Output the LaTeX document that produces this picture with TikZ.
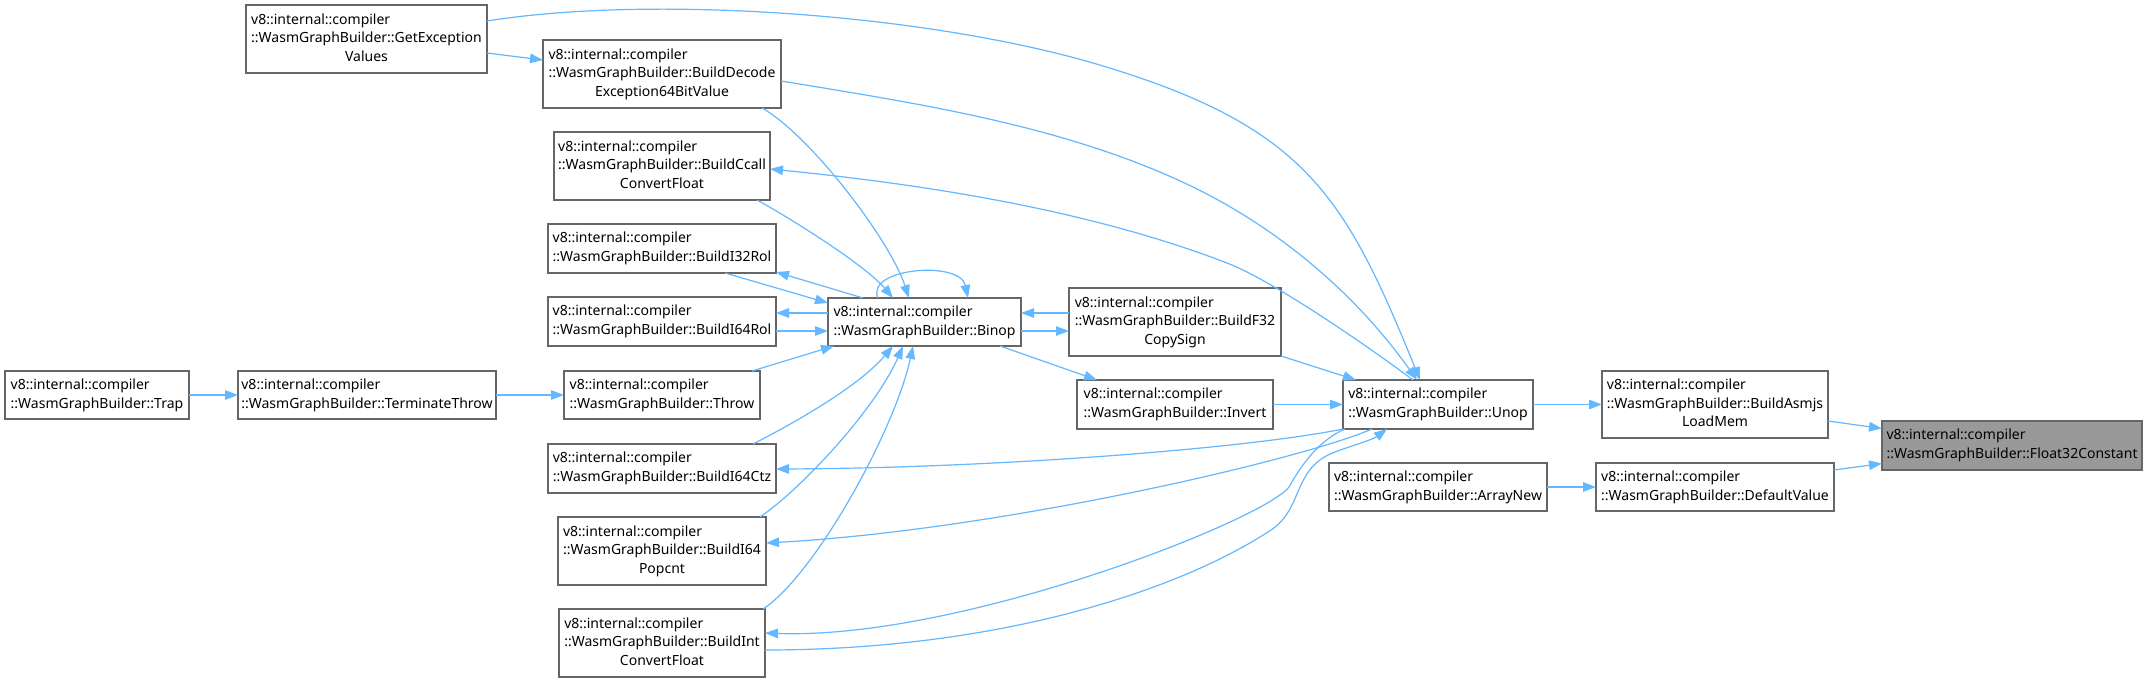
\documentclass[tikz,border=0pt]{standalone}
\usepackage{fontspec}
\setmainfont{Noto Sans}
\usetikzlibrary{arrows.meta,calc}
\definecolor{edgeblue}{HTML}{63B8FF}
\definecolor{nodeborder}{HTML}{666666}
\definecolor{targetfill}{HTML}{999999}
\newcommand{\twol}[1]{\begin{tabular}{@{}l@{}}v8::internal::compiler\\#1\end{tabular}}
\newcommand{\threel}[2]{\begin{tabular}{@{}l@{}}v8::internal::compiler\\#1\\\multicolumn{1}{@{}c@{}}{#2}\end{tabular}}
\tikzset{
  fn/.style={draw=nodeborder, line width=1.3pt, fill=white, inner sep=0pt, outer sep=0pt,
    font=\fontsize{14}{18.7}\selectfont, text=black},
  target/.style={fn, fill=targetfill},
  edge/.style={draw=edgeblue, line width=1.2pt, -{Triangle[length=13pt,width=9.5pt]}}
}
\begin{document}
\begin{tikzpicture}[x=1pt,y=-1pt]
\useasboundingbox[fill=white] (0,0) rectangle (2144,682);
% nodes
\node[fn, minimum width=241, minimum height=68] (getexc) at (366.5,39) {\threel{::WasmGraphBuilder::GetException}{Values}};
\node[fn, minimum width=238, minimum height=68] (decode) at (662,74) {\threel{::WasmGraphBuilder::BuildDecode}{Exception64BitValue}};
\node[fn, minimum width=216, minimum height=68] (ccall) at (662,166) {\threel{::WasmGraphBuilder::BuildCcall}{ConvertFloat}};
\node[fn, minimum width=228, minimum height=49] (i32rol) at (662,248.5) {\twol{::WasmGraphBuilder::BuildI32Rol}};
\node[fn, minimum width=228, minimum height=49] (i64rol) at (662,321.5) {\twol{::WasmGraphBuilder::BuildI64Rol}};
\node[fn, minimum width=184, minimum height=48] (trap) at (97,395) {\twol{::WasmGraphBuilder::Trap}};
\node[fn, minimum width=258, minimum height=48] (terminate) at (367,395) {\twol{::WasmGraphBuilder::TerminateThrow}};
\node[fn, minimum width=196, minimum height=48] (throw) at (662,395) {\twol{::WasmGraphBuilder::Throw}};
\node[fn, minimum width=228, minimum height=49] (i64ctz) at (662,468.5) {\twol{::WasmGraphBuilder::BuildI64Ctz}};
\node[fn, minimum width=208, minimum height=68] (popcnt) at (662,551) {\threel{::WasmGraphBuilder::BuildI64}{Popcnt}};
\node[fn, minimum width=206, minimum height=68] (intconv) at (662,643) {\threel{::WasmGraphBuilder::BuildInt}{ConvertFloat}};
\node[fn, minimum width=193, minimum height=48] (binop) at (924.5,322) {\twol{::WasmGraphBuilder::Binop}};
\node[fn, minimum width=212, minimum height=68] (f32copy) at (1175,322) {\threel{::WasmGraphBuilder::BuildF32}{CopySign}};
\node[fn, minimum width=196, minimum height=49] (invert) at (1175,404.5) {\twol{::WasmGraphBuilder::Invert}};
\node[fn, minimum width=190, minimum height=49] (unop) at (1438,404.5) {\twol{::WasmGraphBuilder::Unop}};
\node[fn, minimum width=218, minimum height=48] (arraynew) at (1438,487) {\twol{::WasmGraphBuilder::ArrayNew}};
\node[fn, minimum width=238, minimum height=48] (defval) at (1715,487) {\twol{::WasmGraphBuilder::DefaultValue}};
\node[fn, minimum width=226, minimum height=67] (asmjs) at (1715,404.5) {\threel{::WasmGraphBuilder::BuildAsmjs}{LoadMem}};
\node[target, minimum width=260, minimum height=49] (float32) at (2012,445.5) {\twol{::WasmGraphBuilder::Float32Constant}};
% edges
\draw[edge] (trap.east) -- (terminate.west);
\draw[edge] (terminate.east) -- (throw.west);
\draw[edge] ($(getexc.east)+(0,14)$) -- ($(decode.west)+(0,-14)$);
\draw[edge] ($(getexc.north east)+(0,16)$) .. controls (650,-5) and (920,13) .. (1093,63)
   .. controls (1304,125) and (1344,193) .. ($(unop.north west)+(77,0)$);
\draw[edge] ($(decode.east)+(0,7)$) .. controls (921,104) and (1067,126) .. (1193,187)
   .. controls (1283,231) and (1358,297) .. ($(unop.north west)+(74,0)$);
\draw[edge] ($(unop.north west)+(70,0)$) .. controls (1373,350) and (1274,281) .. (1227,263)
   .. controls (1087,209) and (920,184) .. ($(ccall.east)+(0,3)$);
\draw[edge] ($(decode.south east)+(-19,0)$) .. controls (810,135) and (890,240) .. ($(binop.north west)+(81,0)$);
\draw[edge] ($(ccall.south east)+(-13,0)$) .. controls (790,218) and (865,265) .. ($(binop.north west)+(65,0)$);
\draw[edge] ($(i32rol.south east)+(-51,0)$) -- ($(binop.north west)+(0,5)$);
\draw[edge] ($(binop.north west)+(35,0)$) -- ($(i32rol.south east)+(0,-1)$);
\draw[edge] ($(binop.west)+(0,-9)$) -- ($(i64rol.east)+(0,-8.5)$);
\draw[edge] ($(i64rol.east)+(0,9.5)$) -- ($(binop.west)+(0,9)$);
\draw[edge] ($(throw.north east)+(-8,0)$) -- ($(binop.south west)+(6,0)$);
\draw[edge] ($(i64ctz.north east)+(-23,0)$) .. controls (800,420) and (860,385) .. ($(binop.south west)+(65,0)$);
\draw[edge] ($(popcnt.north east)+(-6,0)$) .. controls (800,490) and (875,410) .. ($(binop.south west)+(75,0)$);
\draw[edge] ($(intconv.north east)+(-2,0)$) .. controls (815,575) and (895,430) .. ($(binop.south west)+(85,0)$);
\draw[edge] ($(binop.north west)+(50,0)$) .. controls (865,268) and (960,260) .. ($(binop.north west)+(140,0)$);
\draw[edge] ($(f32copy.west)+(0,-9)$) -- ($(binop.east)+(0,-9)$);
\draw[edge] ($(binop.east)+(0,9)$) -- ($(f32copy.west)+(0,9)$);
\draw[edge] ($(binop.south east)+(-21,0)$) -- ($(invert.north west)+(20,0)$);
\draw[edge] (f32copy.south east) -- ($(unop.north west)+(13,0)$);
\draw[edge] (invert.east) -- (unop.west);
\draw[edge] (unop.east) -- (asmjs.west);
\draw[edge] ($(asmjs.east)+(0,16.5)$) -- ($(float32.west)+(0,-17)$);
\draw[edge] (arraynew.east) -- (defval.west);
\draw[edge] ($(defval.north east)+(0,7)$) -- ($(float32.west)+(0,18)$);
\draw[edge] (unop.south west) .. controls (1250,448) and (1000,468) .. ($(i64ctz.east)+(0,0.5)$);
\draw[edge] ($(unop.south west)+(29,0)$) .. controls (1300,460) and (1000,530) .. ($(popcnt.east)+(0,-8)$);
\draw[edge] ($(unop.south west)+(2,0)$) .. controls (1320,440) and (1303,462) .. (1289,487)
   .. controls (1264,520) and (960,640) .. ($(intconv.east)+(0,-10)$);
\draw[edge] ($(intconv.east)+(0,7)$) .. controls (1000,650) and (1180,590) .. (1271,530)
   .. controls (1304,508) and (1292,468) .. (1335,452)
   .. controls (1355,444.5) and (1372,440) .. ($(unop.south west)+(44,0)$);
\end{tikzpicture}
\end{document}
